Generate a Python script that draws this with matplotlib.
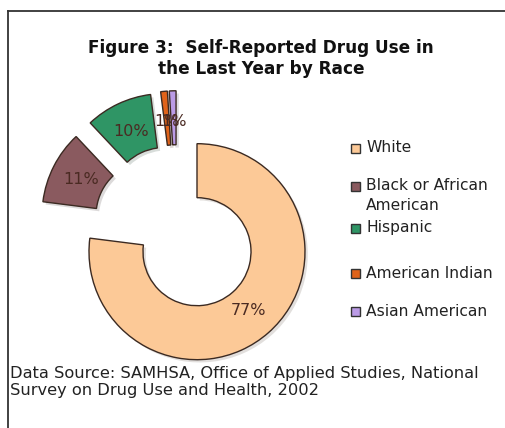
import matplotlib
matplotlib.use("Agg")
import matplotlib.pyplot as plt
import matplotlib.patheffects as pe
from matplotlib.patches import Rectangle
from matplotlib.lines import Line2D

# Share of self-reported drug use in the last year, by race (%)
races = ["White", "Black or African\nAmerican", "Hispanic", "American Indian", "Asian American"]
shares = [77, 11, 10, 1, 1]
colors = ["#FCC997", "#8A5A5F", "#2F9565", "#E0631A", "#BB9BE6"]

title = "Figure 3:  Self-Reported Drug Use in\nthe Last Year by Race"
source = ("Data Source: SAMHSA, Office of Applied Studies, National\n"
          "Survey on Drug Use and Health, 2002")

W, H = 506, 428
fig = plt.figure(figsize=(W / 100, H / 100), dpi=100)
fig.patch.set_facecolor("white")

# Axes spanning the whole figure; 1 data unit = outer radius in pixels
R_PX = 108.0
cx, cy = 177.0, H - 229.0
ax = fig.add_axes([0, 0, 1, 1])
ax.pie(
    shares,
    colors=colors,
    startangle=90,
    counterclock=False,
    explode=[0.28] * len(shares),
    autopct="%d%%",
    pctdistance=0.72,
    wedgeprops=dict(width=0.5, edgecolor="#3b2a22", linewidth=1.0,
                    path_effects=[pe.SimplePatchShadow(offset=(2, -2), alpha=0.16),
                                  pe.Normal()]),
    textprops=dict(fontsize=11.5, color="#4a2a22", family="DejaVu Sans"),
)
ax.set_xlim(-cx / R_PX, (W - cx) / R_PX)
ax.set_ylim(-cy / R_PX, (H - cy) / R_PX)
ax.set_aspect("auto")
ax.axis("off")

# Frame lines along the top and left
fig.add_artist(Line2D([8 / W, 1], [1 - 11 / H, 1 - 11 / H], color="#333333", lw=1.3,
                      transform=fig.transFigure))
fig.add_artist(Line2D([8 / W, 8 / W], [0, 1 - 11 / H], color="#333333", lw=1.3,
                      transform=fig.transFigure))

# Title
fig.text(261 / W, 1 - 58.5 / H, title, ha="center", va="center", fontsize=12.2,
         fontweight="bold", color="#111111", linespacing=1.25, family="DejaVu Sans")

# Legend
legend_y = [148, 186, 228, 273, 311]
for name, col, y in zip(races, colors, legend_y):
    fig.add_artist(Rectangle((351 / W, 1 - (y + 5) / H), 9.5 / W, 9.5 / H,
                             transform=fig.transFigure, facecolor=col,
                             edgecolor="#333333", lw=1.0))
    if "\n" in name:
        fig.text(366 / W, 1 - (y - 8) / H, name, ha="left", va="top",
                 fontsize=11.2, color="#222222", linespacing=1.4, family="DejaVu Sans")
    else:
        fig.text(366 / W, 1 - y / H, name, ha="left", va="center",
                 fontsize=11.2, color="#222222", family="DejaVu Sans")

# Source note
fig.text(10 / W, 1 - 382 / H, source, ha="left", va="center", fontsize=11.7,
         color="#222222", linespacing=1.17, family="DejaVu Sans")

fig.savefig("out.png", dpi=100, facecolor="white")
